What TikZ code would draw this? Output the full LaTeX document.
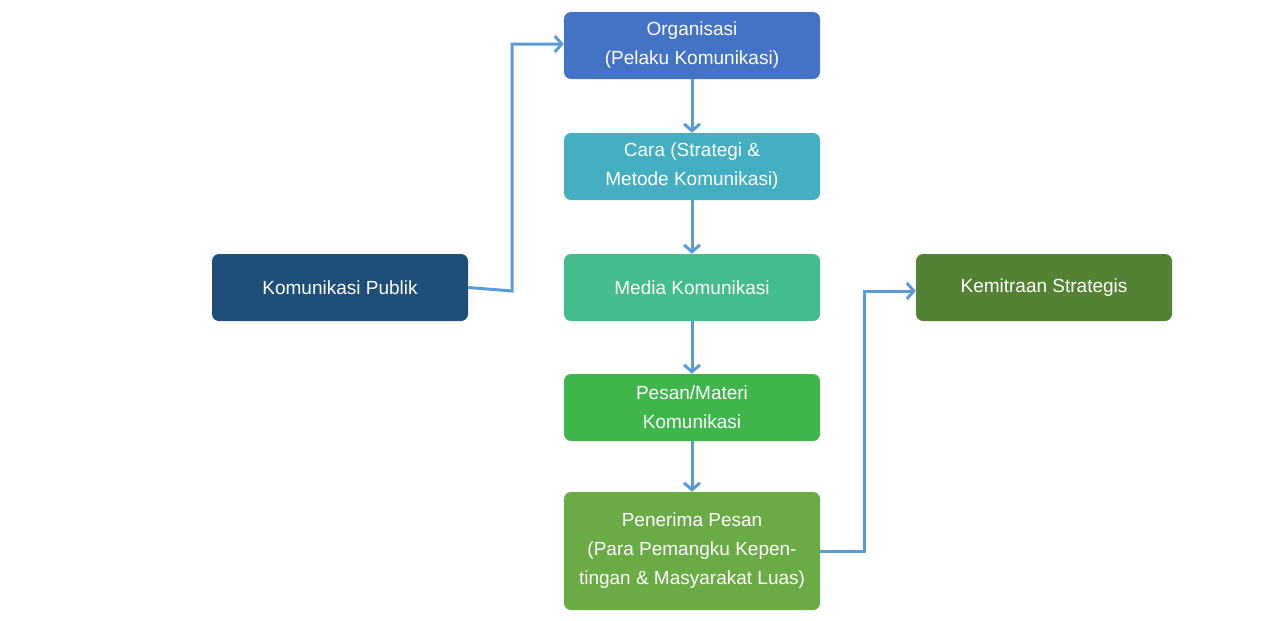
\documentclass[tikz,border=0pt]{standalone}
\usepackage{fontspec}
\setmainfont{Liberation Sans}
\usetikzlibrary{arrows.meta}
\definecolor{cOrg}{HTML}{4472C4}
\definecolor{cCara}{HTML}{45AFC2}
\definecolor{cMedia}{HTML}{43BC8E}
\definecolor{cPesan}{HTML}{3FB54C}
\definecolor{cPen}{HTML}{6AAB45}
\definecolor{cPub}{HTML}{1F4E79}
\definecolor{cKem}{HTML}{548235}
\definecolor{cArr}{HTML}{5B9BD5}
\begin{document}
\begin{tikzpicture}[x=1pt,y=-1pt,
 box/.style={draw=none,rounded corners=7pt,minimum width=256pt,text=white,align=center,font=\fontsize{19}{29}\selectfont,inner sep=0pt},
 arr/.style={draw=cArr,line width=3pt,-{Straight Barb[length=7pt,width=16pt,line width=3pt]}}]
\useasboundingbox (0,0) rectangle (1280,621);
\node[box,fill=cOrg,minimum height=67pt] (org) at (692,45.5) {Organisasi\\(Pelaku Komunikasi)};
\node[box,fill=cCara,minimum height=67pt] (cara) at (692,166.5) {Cara (Strategi \&\\Metode Komunikasi)};
\node[box,fill=cMedia,minimum height=67pt] (media) at (692,287.5) {Media Komunikasi};
\node[box,fill=cPesan,minimum height=67pt] (pesan) at (692,407.5) {Pesan/Materi\\Komunikasi};
\node[box,fill=cPen,minimum height=118pt] (pen) at (692,551) {Penerima Pesan\\(Para Pemangku Kepen-\\tingan \& Masyarakat Luas)};
\node[box,fill=cPub,minimum height=67pt] (pub) at (340,287.5) {Komunikasi Publik};
\node[box,fill=cKem,minimum height=67pt] (kem) at (1044,287.5) {Kemitraan Strategis};
\draw[arr] (org) -- (cara);
\draw[arr] (cara) -- (media);
\draw[arr] (media) -- (pesan);
\draw[arr] (pesan) -- (pen);
\draw[arr] (pub.east) -- (512,291) -- (512,44) -- (org.west |- 0,44);
\draw[arr] (pen.east) -- (864,551) -- (864,291) -- (kem.west |- 0,291);
\end{tikzpicture}
\end{document}
